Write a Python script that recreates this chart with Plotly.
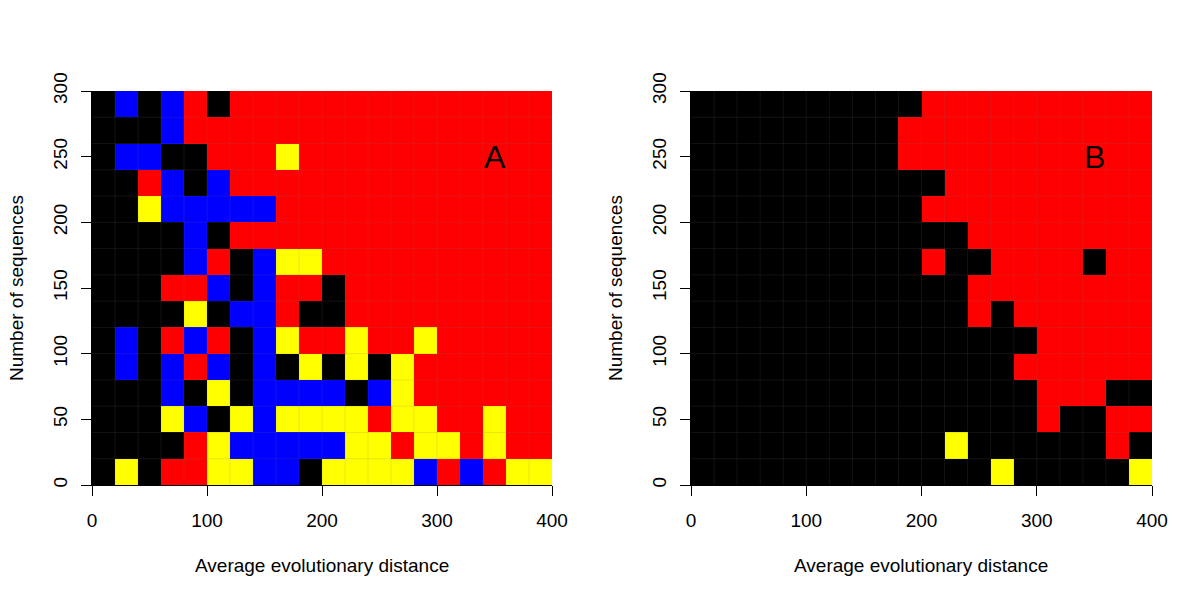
import plotly.graph_objects as go

# Grid cell size and axis extents (data units)
x_edges = list(range(0, 401, 20))
y_edges = list(range(0, 301, 20))

# Colour codes: K=black, B=blue, R=red, Y=yellow
# Rows listed bottom (0-20) to top (280-300), 20 columns each (0-400)
panel_a_rows = [
    "KYKRRYYBBKYYYYBRBRYY",
    "KKKKRYBBBBBYYRYYRYRR",
    "KKKYBKYBYYYYRYYRRYRR",
    "KKKBKYKBBBBKBYRRRRRR",
    "KBKBRBKBKYKYKYRRRRRR",
    "KBKRBRKBYRRYRRYRRRRR",
    "KKKKYKBBRKKRRRRRRRRR",
    "KKKRRBKBRRKRRRRRRRRR",
    "KKKKBRKBYYRRRRRRRRRR",
    "KKKKBKRRRRRRRRRRRRRR",
    "KKYBBBBBRRRRRRRRRRRR",
    "KKRBKBRRRRRRRRRRRRRR",
    "KBBKKRRRYRRRRRRRRRRR",
    "KKKBRRRRRRRRRRRRRRRR",
    "KBKBRKRRRRRRRRRRRRRR",
]

panel_b_rows = [
    "KKKKKKKKKKKKKYKKKKKY",
    "KKKKKKKKKKKYKKKKKKRK",
    "KKKKKKKKKKKKKKKRKKRR",
    "KKKKKKKKKKKKKKKRRRKK",
    "KKKKKKKKKKKKKKRRRRRR",
    "KKKKKKKKKKKKKKKRRRRR",
    "KKKKKKKKKKKKRKRRRRRR",
    "KKKKKKKKKKKKRRRRRRRR",
    "KKKKKKKKKKRKKRRRRKRR",
    "KKKKKKKKKKKKRRRRRRRR",
    "KKKKKKKKKKRRRRRRRRRR",
    "KKKKKKKKKKKRRRRRRRRR",
    "KKKKKKKKKRRRRRRRRRRR",
    "KKKKKKKKKRRRRRRRRRRR",
    "KKKKKKKKKKRRRRRRRRRR",
]

panel_labels = ["A", "B"]
label_pos = (350, 250)
x_title = "Average evolutionary distance"
y_title = "Number of sequences"
x_ticks = [0, 100, 200, 300, 400]
y_ticks = [0, 50, 100, 150, 200, 250, 300]

code_val = {"K": 0, "B": 1, "R": 2, "Y": 3}
colorscale = [
    [0.0, "#000000"], [0.25, "#000000"],
    [0.25, "#0000FF"], [0.5, "#0000FF"],
    [0.5, "#FF0000"], [0.75, "#FF0000"],
    [0.75, "#FFFF00"], [1.0, "#FFFF00"],
]


def to_z(rows):
    return [[code_val[c] for c in row] for row in rows]


FONT = "Liberation Sans, Arial, Helvetica, sans-serif"

# Body margin is removed by the post script, so the figure fills the window
W, H = 1200, 600


def px(xp):
    return xp / W


def py(yp):
    return 1 - yp / H


fig = go.Figure()
for i, rows in enumerate([panel_a_rows, panel_b_rows]):
    suffix = "" if i == 0 else str(i + 1)
    fig.add_trace(go.Heatmap(
        z=to_z(rows), x=x_edges, y=y_edges,
        colorscale=colorscale, zmin=-0.5, zmax=3.5,
        showscale=False, hoverinfo="skip",
        xaxis="x" + suffix, yaxis="y" + suffix,
    ))

x_domains = [[px(92), px(552)], [px(691), px(1152)]]
y_domain = [py(485), py(91)]

axis_common = dict(
    showgrid=False, zeroline=False, showline=True, linecolor="#000000",
    linewidth=1, ticks="outside", ticklen=10, tickwidth=1, tickcolor="#000000",
    tickfont=dict(family=FONT, size=19, color="#000000"),
    automargin=False,
)

layout = dict(
    width=W, height=H,
    margin=dict(l=0, r=0, t=0, b=0),
    paper_bgcolor="white", plot_bgcolor="white",
    showlegend=False,
)
for i in range(2):
    suffix = "" if i == 0 else str(i + 1)
    layout["xaxis" + suffix] = dict(
        domain=x_domains[i], range=[0, 400], anchor="y" + suffix,
        tickvals=x_ticks, ticktext=[str(v) for v in x_ticks],
        ticklabelstandoff=8,
        **axis_common,
    )
    layout["yaxis" + suffix] = dict(
        domain=y_domain, range=[0, 300], anchor="x" + suffix,
        tickvals=y_ticks, ticktext=[str(v) for v in y_ticks],
        tickangle=-90, ticklabelstandoff=6,
        **axis_common,
    )
fig.update_layout(**layout)

# faint cell seams
shapes = []
for i in range(2):
    suffix = "" if i == 0 else str(i + 1)
    for xv in x_edges[1:-1]:
        shapes.append(dict(type="line", xref="x" + suffix, yref="y" + suffix,
                           x0=xv, x1=xv, y0=0, y1=300,
                           line=dict(color="rgba(110,110,110,0.16)", width=1)))
    for yv in y_edges[1:-1]:
        shapes.append(dict(type="line", xref="x" + suffix, yref="y" + suffix,
                           x0=0, x1=400, y0=yv, y1=yv,
                           line=dict(color="rgba(110,110,110,0.16)", width=1)))
fig.update_layout(shapes=shapes)

annotations = []
for i in range(2):
    suffix = "" if i == 0 else str(i + 1)
    annotations.append(dict(
        x=label_pos[0], y=label_pos[1], xref="x" + suffix, yref="y" + suffix,
        text=panel_labels[i], showarrow=False,
        font=dict(family=FONT, size=32, color="#000000"),
    ))
    xc = (x_domains[i][0] + x_domains[i][1]) / 2
    annotations.append(dict(
        x=xc, y=py(565), xref="paper", yref="paper",
        text=x_title, showarrow=False, xanchor="center", yanchor="middle",
        font=dict(family=FONT, size=19, color="#000000"),
    ))
    annotations.append(dict(
        x=px(16 if i == 0 else 615), y=py(288), xref="paper", yref="paper",
        text=y_title, showarrow=False, textangle=-90,
        xanchor="center", yanchor="middle",
        font=dict(family=FONT, size=19, color="#000000"),
    ))
fig.update_layout(annotations=annotations)

fig.write_html(
    "out.html",
    config={"displayModeBar": False},
    post_script="document.body.style.margin='0';document.body.style.overflow='hidden';",
)
